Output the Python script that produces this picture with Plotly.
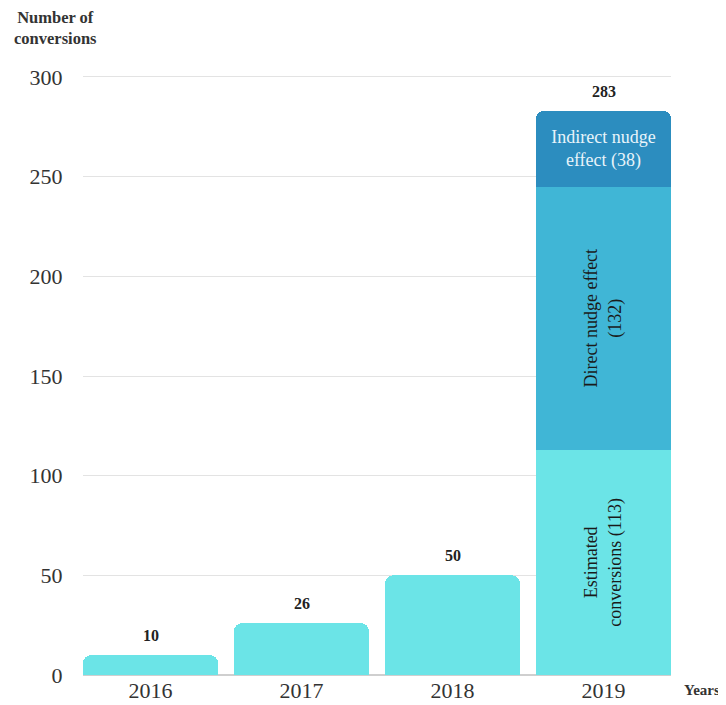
import plotly.graph_objects as go

years = ["2016", "2017", "2018", "2019"]
estimated = [10, 26, 50, 113]
direct = [None, None, None, 132]
indirect = [None, None, None, 38]

est_text = ["", "", "", "Estimated<br>conversions (113)"]
dir_text = ["", "", "", "Direct nudge effect<br>(132)"]
ind_text = ["", "", "", "Indirect nudge<br>effect (38)"]

totals = [sum(v for v in vals if v is not None) for vals in zip(estimated, direct, indirect)]

FONT = "Liberation Serif"

fig = go.Figure()
fig.add_trace(go.Bar(x=years, y=estimated, marker_color="#6BE4E7", text=est_text,
                     textposition="inside", textangle=-90, insidetextanchor="middle",
                     constraintext="none",
                     textfont=dict(family=FONT, size=18, color="#1a1a1a"),
                     marker_line_width=0, hoverinfo="skip"))
fig.add_trace(go.Bar(x=years, y=direct, marker_color="#40B6D6", text=dir_text,
                     textposition="inside", textangle=-90, insidetextanchor="middle",
                     constraintext="none",
                     textfont=dict(family=FONT, size=18, color="#1a1a1a"),
                     marker_line_width=0, hoverinfo="skip"))
fig.add_trace(go.Bar(x=years, y=indirect, marker_color="#2C8DBF", text=ind_text,
                     textposition="inside", textangle=0, insidetextanchor="middle",
                     constraintext="none",
                     textfont=dict(family=FONT, size=18, color="#E8F4FA"),
                     marker_line_width=0, hoverinfo="skip"))

# category index positions (numeric-looking category names are read as indices)
for i, t in enumerate(totals):
    fig.add_annotation(x=i, y=t, xref="x", yref="y", text=f"<b>{t}</b>", showarrow=False,
                       yanchor="bottom", yshift=9,
                       font=dict(family=FONT, size=16, color="#222"))

fig.add_annotation(xref="paper", yref="paper", x=0, y=1, xshift=-28, yshift=47,
                   xanchor="center", yanchor="middle", showarrow=False,
                   text="<b>Number of<br>conversions</b>",
                   font=dict(family=FONT, size=16.5, color="#333"))
fig.add_annotation(xref="paper", yref="paper", x=1, y=0, xshift=11, yshift=-15,
                   xanchor="left", yanchor="middle", showarrow=False,
                   text="<b>Years</b>",
                   font=dict(family=FONT, size=15, color="#333"))

# page body adds an 8px offset, so the figure is sized to 718x697
fig.update_layout(
    width=718, height=697,
    margin=dict(l=75, r=55, t=67, b=30),
    barmode="stack", bargap=0.106, barcornerradius=8,
    plot_bgcolor="white", paper_bgcolor="white",
    showlegend=False,
    font=dict(family=FONT, color="#333"),
    xaxis=dict(type="category", range=[-0.447, 3.447], showgrid=False, showline=False,
               automargin=False,
               tickfont=dict(family=FONT, size=22, color="#333"),
               ticks=""),
    yaxis=dict(range=[0, 301], tickvals=[0, 50, 100, 150, 200, 250, 300],
               automargin=False,
               showgrid=True, gridcolor="#E3E3E3", gridwidth=1,
               zeroline=True, zerolinecolor="#CFCFCF", zerolinewidth=1.5,
               showline=False,
               tickfont=dict(family=FONT, size=22, color="#333"),
               ticks="outside", ticklen=15, tickcolor="rgba(0,0,0,0)"),
)

fig.write_html("out.html")
